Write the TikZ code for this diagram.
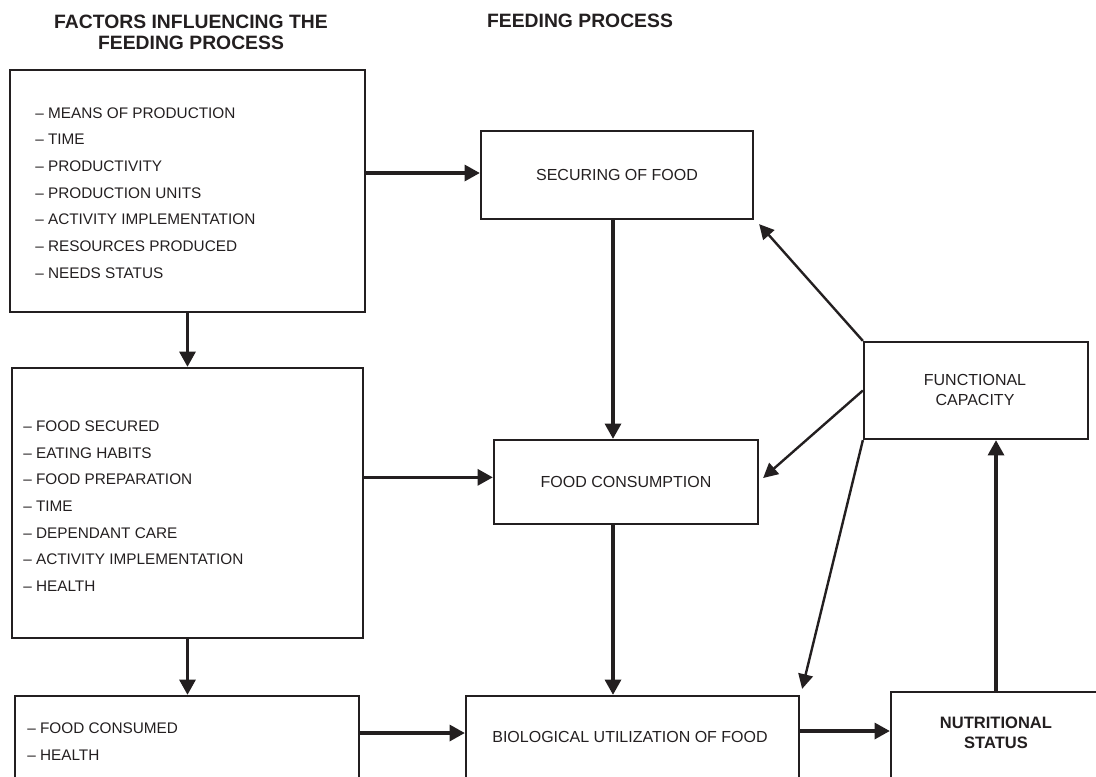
\documentclass[tikz,border=0pt]{standalone}
\usepackage{fontspec}
\setmainfont{Liberation Sans}
\usetikzlibrary{arrows.meta,calc}
\definecolor{ink}{HTML}{231F20}
\begin{document}
\begin{tikzpicture}[x=0.75pt,y=-0.75pt,
 box/.style={draw=ink,line width=1.7pt,inner sep=0pt},
 lst/.style={font=\fontsize{11.5}{20}\selectfont,align=left,text=ink,inner sep=0pt},
 lbl/.style={font=\fontsize{12}{15}\selectfont,align=center,text=ink,inner sep=0pt},
 blbl/.style={font=\fontsize{12.4}{15}\selectfont\bfseries,align=center,text=ink,inner sep=0pt},
 ttl/.style={font=\fontsize{14.5}{15.75}\selectfont\bfseries,align=center,text=ink,inner sep=0pt},
 arr/.style={draw=ink,line width=2.5pt,-{Triangle[length=11.5pt,width=12pt]}},
 darr/.style={draw=ink,line width=1.8pt,-{Triangle[length=11pt,width=11pt]}},
]
\useasboundingbox (0,0) rectangle (1096,776);
\clip (0,0) rectangle (1096,776);

% titles
\node[ttl] (t1) at (191,32) {FACTORS INFLUENCING THE\\FEEDING PROCESS};
\node[ttl] (t2) at (580,21) {FEEDING PROCESS};

% left column
\node[box,minimum width=266.25pt,minimum height=181.5pt] (A) at (187.5,191) {};
\node[lst,anchor=west] (Atext) at (35,193) {– MEANS OF PRODUCTION\\– TIME\\– PRODUCTIVITY\\– PRODUCTION UNITS\\– ACTIVITY IMPLEMENTATION\\– RESOURCES PRODUCED\\– NEEDS STATUS};

\node[box,minimum width=263.25pt,minimum height=202.5pt] (B) at (187.5,503) {};
\node[lst,anchor=west] (Btext) at (23,506) {– FOOD SECURED\\– EATING HABITS\\– FOOD PREPARATION\\– TIME\\– DEPENDANT CARE\\– ACTIVITY IMPLEMENTATION\\– HEALTH};

\node[box,minimum width=258pt,minimum height=78pt] (C) at (187,748) {};
\node[lst,anchor=west] (Ctext) at (27,741.5) {– FOOD CONSUMED\\– HEALTH};

% process column
\node[box,minimum width=204pt,minimum height=66pt] (S) at (617,175) {};
\node[lbl] (Stext) at (617,175) {SECURING OF FOOD};

\node[box,minimum width=198pt,minimum height=63pt] (FC) at (626,482) {};
\node[lbl] (FCtext) at (626,482) {FOOD CONSUMPTION};

\node[box,minimum width=249.75pt,minimum height=78pt] (Bio) at (632.5,748) {};
\node[lbl] (Biotext) at (630,737) {BIOLOGICAL UTILIZATION OF FOOD};

% right column
\node[box,minimum width=168pt,minimum height=72.75pt] (F) at (976,390.5) {};
\node[lbl] (Ftext) at (975,390) {FUNCTIONAL\\CAPACITY};

\node[box,minimum width=157.5pt,minimum height=81pt] (N) at (996,746) {};
\node[blbl] (Ntext) at (996,733) {NUTRITIONAL\\STATUS};

% connectors
\draw[arr] ([yshift=1.5pt]S.west -| A.east) -- ([yshift=1.5pt]S.west);
\draw[arr] (A.south) -- (A.south |- B.north);
\draw[arr] ([yshift=3.5pt]FC.west -| B.east) -- ([yshift=3.5pt]FC.west);
\draw[arr] (B.south) -- (B.south |- C.north);
\draw[arr] ([yshift=3pt]Biotext.west -| C.east) -- ([yshift=3pt]Biotext.west -| Bio.west);
\draw[arr] ([xshift=-3pt]S.south) -- ([xshift=-3pt]S.south |- FC.north);
\draw[arr] ([xshift=-9.75pt]FC.south) -- ([xshift=-9.75pt]FC.south |- Bio.north);
\draw[arr] ([yshift=1.5pt]Ntext.west -| Bio.east) -- ([yshift=1.5pt]Ntext.west -| N.west);
\draw[arr] (Ntext.north |- N.north) -- (Ntext.north |- F.south);

\draw[darr] (F.north west) -- ($(S.south east)+(5,4)$);
\draw[darr] (F.west) -- ($(FC.east)+(4,-4)$);
\draw[darr] (F.south west) -- ($(Bio.north east)+(2,-6)$);
\end{tikzpicture}
\end{document}
